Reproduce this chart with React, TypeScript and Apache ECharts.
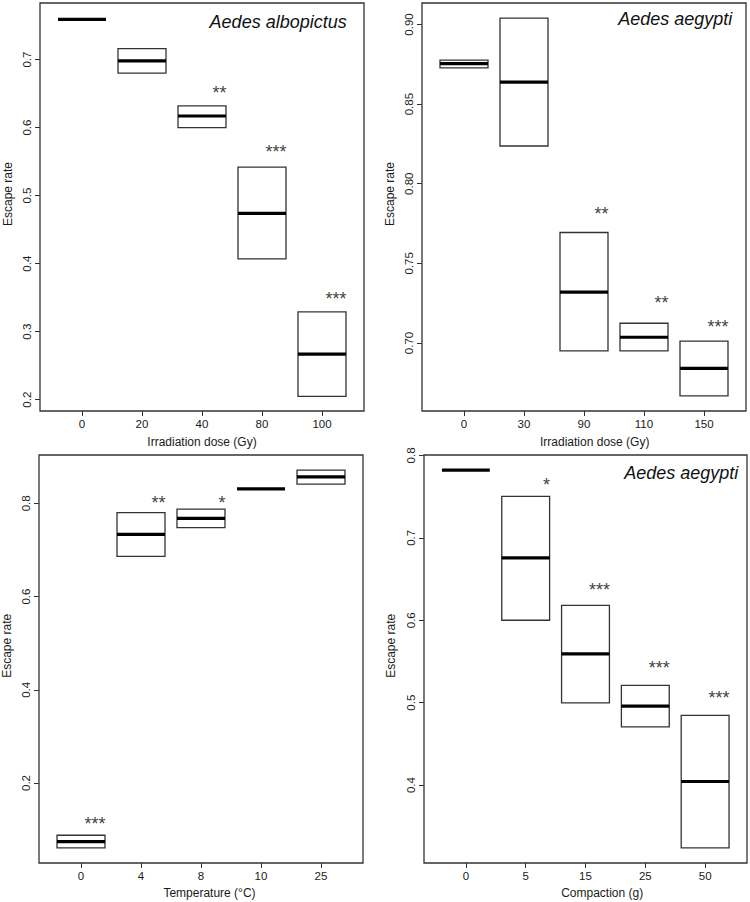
import React, { useEffect, useRef } from "react";
import * as echarts from "echarts";

// ---------- Data ----------
// Panel A: Aedes albopictus, irradiation dose
const doseAlboCategories = ["0", "20", "40", "80", "100"];
const doseAlboLow = [0.759, 0.68, 0.6, 0.407, 0.205];
const doseAlboHigh = [0.759, 0.716, 0.632, 0.542, 0.329];
const doseAlboMedian = [0.759, 0.698, 0.617, 0.474, 0.267];
const doseAlboStars = ["", "", "**", "***", "***"];
const doseAlboStarY = [NaN, NaN, 0.657, 0.57, 0.354];
const doseAlboTicks = [0.2, 0.3, 0.4, 0.5, 0.6, 0.7];

// Panel B: Aedes aegypti, irradiation dose
const doseAegCategories = ["0", "30", "90", "110", "150"];
const doseAegLow = [0.8728, 0.8237, 0.695, 0.695, 0.6668];
const doseAegHigh = [0.8776, 0.904, 0.7694, 0.7124, 0.7012];
const doseAegMedian = [0.8754, 0.8638, 0.732, 0.7036, 0.6841];
const doseAegStars = ["", "", "**", "**", "***"];
const doseAegStarY = [NaN, NaN, 0.7834, 0.7276, 0.7127];
const doseAegTicks = [0.7, 0.75, 0.8, 0.85, 0.9];

// Panel C: temperature
const tempCategories = ["0", "4", "8", "10", "25"];
const tempLow = [0.0607, 0.6864, 0.7478, 0.8313, 0.8414];
const tempHigh = [0.0878, 0.78, 0.7878, 0.8313, 0.8714];
const tempMedian = [0.0743, 0.7336, 0.7678, 0.8313, 0.857];
const tempStars = ["***", "**", "*", "", ""];
const tempStarY = [0.1214, 0.8086, 0.8086, NaN, NaN];
const tempTicks = [0.2, 0.4, 0.6, 0.8];

// Panel D: Aedes aegypti, compaction
const compCategories = ["0", "5", "15", "25", "50"];
const compLow = [0.7822, 0.6, 0.4998, 0.4706, 0.3238];
const compHigh = [0.7822, 0.7502, 0.618, 0.5209, 0.4845];
const compMedian = [0.7822, 0.6757, 0.5592, 0.4958, 0.4044];
const compStars = ["", "*", "***", "***", "***"];
const compStarY = [NaN, 0.7692, 0.6417, 0.5464, 0.51];
const compTicks = [0.4, 0.5, 0.6, 0.7, 0.8];

const FONT = '"Liberation Sans", Arial, Helvetica, sans-serif';
const TEXT = "#1a1a1a";

type Panel = {
  grid: { left: number; top: number; width: number; height: number };
  yMin: number;
  yMax: number;
  yTicks: number[];
  yDecimals: number;
  cats: string[];
  low: number[];
  high: number[];
  median: number[];
  stars: string[];
  starY: number[];
  xTitle: string;
  xTitlePos: [number, number];
  yTitlePos: [number, number];
  title?: string;
  titlePos?: [number, number];
};

const panels: Panel[] = [
  {
    grid: { left: 40, top: 3, width: 324, height: 408 },
    yMin: 0.1834,
    yMax: 0.7831,
    yTicks: doseAlboTicks,
    yDecimals: 1,
    cats: doseAlboCategories,
    low: doseAlboLow,
    high: doseAlboHigh,
    median: doseAlboMedian,
    stars: doseAlboStars,
    starY: doseAlboStarY,
    xTitle: "Irradiation dose (Gy)",
    xTitlePos: [202, 441.5],
    yTitlePos: [8, 194],
    title: "Aedes albopictus",
    titlePos: [346.7, 21.5],
  },
  {
    grid: { left: 422, top: 3, width: 324, height: 408 },
    yMin: 0.6573,
    yMax: 0.9135,
    yTicks: doseAegTicks,
    yDecimals: 2,
    cats: doseAegCategories,
    low: doseAegLow,
    high: doseAegHigh,
    median: doseAegMedian,
    stars: doseAegStars,
    starY: doseAegStarY,
    xTitle: "Irradiation dose (Gy)",
    xTitlePos: [594.7, 441.5],
    yTitlePos: [389.7, 194],
    title: "Aedes aegypti",
    titlePos: [732.3, 19.3],
  },
  {
    grid: { left: 39, top: 455, width: 324, height: 408 },
    yMin: 0.0283,
    yMax: 0.9038,
    yTicks: tempTicks,
    yDecimals: 1,
    cats: tempCategories,
    low: tempLow,
    high: tempHigh,
    median: tempMedian,
    stars: tempStars,
    starY: tempStarY,
    xTitle: "Temperature (°C)",
    xTitlePos: [209.5, 893],
    yTitlePos: [7.2, 645.8],
  },
  {
    grid: { left: 424, top: 455, width: 323, height: 408 },
    yMin: 0.3055,
    yMax: 0.8005,
    yTicks: compTicks,
    yDecimals: 1,
    cats: compCategories,
    low: compLow,
    high: compHigh,
    median: compMedian,
    stars: compStars,
    starY: compStarY,
    xTitle: "Compaction (g)",
    xTitlePos: [602.2, 892.7],
    yTitlePos: [391.2, 645.8],
    title: "Aedes aegypti",
    titlePos: [738.3, 472.8],
  },
];

const X_MIN = 0.3;
const X_MAX = 5.7;
const HALF_W = 0.4;

function buildOption() {
  const grid: any[] = [];
  const xAxis: any[] = [];
  const yAxis: any[] = [];
  const series: any[] = [];
  const graphic: any[] = [];

  panels.forEach((p, i) => {
    grid.push({
      ...p.grid,
      show: true,
      borderColor: "#333",
      borderWidth: 1.3,
      backgroundColor: "transparent",
    });
    const xPositions = p.cats.map((_, k) => k + 1);
    xAxis.push({
      type: "value",
      gridIndex: i,
      min: X_MIN,
      max: X_MAX,
      axisLine: { show: false },
      splitLine: { show: false },
      axisTick: {
        show: true,
        customValues: xPositions,
        length: 5,
        lineStyle: { color: "#333", width: 1 },
      },
      axisLabel: {
        show: true,
        customValues: xPositions,
        formatter: (v: number) => p.cats[Math.round(v) - 1] ?? "",
        fontFamily: FONT,
        fontSize: 11.5,
        color: TEXT,
        margin: 7,
      },
    });
    yAxis.push({
      type: "value",
      gridIndex: i,
      min: p.yMin,
      max: p.yMax,
      axisLine: { show: false },
      splitLine: { show: false },
      axisTick: {
        show: true,
        customValues: p.yTicks,
        length: 5,
        lineStyle: { color: "#333", width: 1 },
      },
      axisLabel: {
        show: true,
        customValues: p.yTicks,
        rotate: 90,
        formatter: (v: number) => v.toFixed(p.yDecimals),
        fontFamily: FONT,
        fontSize: 11.5,
        color: TEXT,
        margin: 7,
      },
    });

    const data = p.cats.map((_, k) => [k + 1, p.low[k], p.high[k], p.median[k], p.starY[k]]);
    series.push({
      type: "custom",
      xAxisIndex: i,
      yAxisIndex: i,
      data,
      silent: true,
      clip: false,
      encode: { x: 0, y: [1, 2, 3] },
      renderItem: (params: any, api: any) => {
        const x = api.value(0);
        const low = api.value(1);
        const high = api.value(2);
        const med = api.value(3);
        const sy = api.value(4);
        const idx = params.dataIndex;
        const lt = api.coord([x - HALF_W, high]);
        const rb = api.coord([x + HALF_W, low]);
        const children: any[] = [];
        if (high > low) {
          children.push({
            type: "rect",
            shape: { x: lt[0], y: lt[1], width: rb[0] - lt[0], height: rb[1] - lt[1] },
            style: { fill: "#fff", stroke: "#333", lineWidth: 1.3 },
          });
        }
        const pm = api.coord([x, med]);
        children.push({
          type: "line",
          shape: { x1: lt[0], y1: pm[1], x2: rb[0], y2: pm[1] },
          style: { stroke: "#000", lineWidth: 3.2 },
        });
        const star = p.stars[idx];
        if (star && !isNaN(sy)) {
          const ps = api.coord([x, sy]);
          children.push({
            type: "text",
            x: rb[0] + 0.5,
            y: ps[1] + 4,
            style: {
              text: star,
              fontFamily: FONT,
              fontSize: 18,
              fill: "#444",
              align: "right",
              verticalAlign: "middle",
            },
          });
        }
        return { type: "group", children };
      },
    });

    graphic.push({
      type: "text",
      x: p.xTitlePos[0],
      y: p.xTitlePos[1],
      style: {
        text: p.xTitle,
        fontFamily: FONT,
        fontSize: 12,
        fill: TEXT,
        align: "center",
        verticalAlign: "middle",
      },
    });
    graphic.push({
      type: "text",
      x: p.yTitlePos[0],
      y: p.yTitlePos[1],
      rotation: Math.PI / 2,
      style: {
        text: "Escape rate",
        fontFamily: FONT,
        fontSize: 12,
        fill: TEXT,
        align: "center",
        verticalAlign: "middle",
      },
    });
    if (p.title && p.titlePos) {
      graphic.push({
        type: "text",
        x: p.titlePos[0],
        y: p.titlePos[1],
        style: {
          text: p.title,
          fontFamily: FONT,
          fontSize: 18,
          fontStyle: "italic",
          fill: "#111",
          align: "right",
          verticalAlign: "middle",
        },
      });
    }
  });

  return {
    animation: false,
    backgroundColor: "#fff",
    grid,
    xAxis,
    yAxis,
    series,
    graphic,
  };
}

export default function App() {
  const ref = useRef<HTMLDivElement>(null);
  useEffect(() => {
    if (!ref.current) return;
    const chart = echarts.init(ref.current, null, { renderer: "svg" });
    chart.setOption(buildOption() as any);
    return () => {
      chart.dispose();
    };
  }, []);
  return (
    <div
      ref={ref}
      style={{ position: "absolute", left: 0, top: 0, width: 750, height: 902 }}
    />
  );
}
